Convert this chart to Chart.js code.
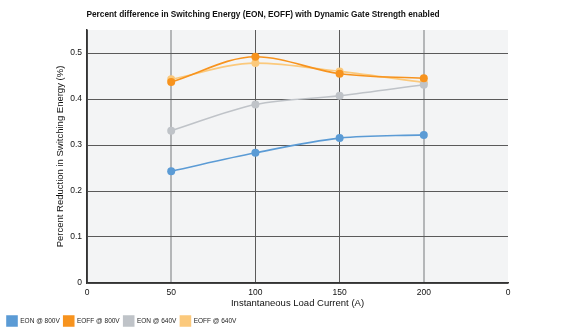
<!DOCTYPE html>
<html>
<head>
<meta charset="utf-8">
<script src="https://cdn.jsdelivr.net/npm/chart.js@4.4.0/dist/chart.umd.min.js"></script>
<style>
	html, body { margin: 0; padding: 0; background: #fff; }
	#wrap { width: 588px; height: 332px; position: relative; }
</style>
</head>
<body>
<div id="wrap"><canvas id="switchChart" width="588" height="332"></canvas></div>
<script>
// tick labels on the x axis (the chart really shows a trailing "0")
const xLabels = ['0', '50', '100', '150', '200', '0'];

// values, null where no point is drawn
const eon800 = [null, 0.243, 0.283, 0.315, 0.322, null];
const eoff800 = [null, 0.437, 0.492, 0.455, 0.445, null];
const eon640 = [null, 0.331, 0.388, 0.407, 0.431, null];
const eoff640 = [null, 0.443, 0.478, 0.460, 0.436, null];

const chartTitle = 'Percent difference in Switching Energy (EON, EOFF) with Dynamic Gate Strength enabled';

const plotBackground = {
	id: 'plotBackground',
	beforeDraw(chart) {
		const a = chart.chartArea;
		const ctx = chart.ctx;
		ctx.save();
		ctx.fillStyle = '#f3f4f5';
		ctx.fillRect(a.left, a.top, a.right - a.left, a.bottom - a.top);
		ctx.restore();
	},
	afterDraw(chart) {
		// title sits left of centre in the original, so draw it ourselves
		const ctx = chart.ctx;
		ctx.save();
		ctx.font = 'bold 8.3px "Liberation Sans", Arial, sans-serif';
		ctx.fillStyle = '#111';
		ctx.textAlign = 'center';
		ctx.textBaseline = 'middle';
		ctx.fillText(chartTitle, 263, 15);
		ctx.restore();
	}
};

function series(label, data, color) {
	return {
		label: label,
		data: data,
		borderColor: color,
		backgroundColor: color,
		borderWidth: 1.6,
		pointRadius: 4,
		pointHoverRadius: 4,
		pointBorderWidth: 0,
		cubicInterpolationMode: 'monotone',
	};
}

Chart.defaults.font.family = '"Liberation Sans", Arial, sans-serif';
Chart.defaults.color = '#111';

const ctx = document.getElementById('switchChart').getContext('2d');
const switchChart = new Chart(ctx, {
	type: 'line',
	data: {
		labels: xLabels,
		datasets: [
			series('EON @ 800V', eon800, '#5b9bd5'),
			series('EOFF @ 800V', eoff800, '#f7931e'),
			series('EON @ 640V', eon640, '#bfc3c8'),
			series('EOFF @ 640V', eoff640, '#fbc97c'),
		],
	},
	options: {
		responsive: false,
		animation: false,
		maintainAspectRatio: false,
		layout: {
			padding: { top: 30, right: 80, bottom: -4, left: 3 },
		},
		plugins: {
			legend: {
				position: 'bottom',
				align: 'start',
				labels: {
					boxWidth: 10,
					boxHeight: 10,
					padding: 4,
					font: { size: 6.5 },
					color: '#222',
				},
			},
			title: { display: false },
			tooltip: { enabled: false },
		},
		scales: {
			x: {
				offset: false,
				grid: {
					color: (c) => {
						const i = c.index;
						if (i === 1 || i === 4) return '#b4b6b8';
						if (i === 5) return 'rgba(0,0,0,0)';
						return '#5a5a5a';
					},
					lineWidth: (c) => (c.index === 1 || c.index === 4) ? 2 : 1,
					drawTicks: false,
				},
				border: { color: '#333', width: 1.5 },
				ticks: { font: { size: 8.5 }, padding: 5, maxRotation: 0 },
				title: {
					display: true,
					text: 'Instantaneous Load Current (A)',
					font: { size: 9.5 },
					padding: { top: 3, bottom: 3 },
				},
				afterFit: (scale) => { scale.height = 29; },
			},
			y: {
				min: 0,
				max: 0.55,
				grid: { color: '#5a5a5a', lineWidth: 1, drawTicks: false },
				border: { color: '#333', width: 1.5 },
				ticks: { stepSize: 0.1, font: { size: 8.5 }, padding: 5 },
				afterBuildTicks: (scale) => {
					scale.ticks = scale.ticks.filter(t => Math.abs(t.value * 10 - Math.round(t.value * 10)) < 1e-6);
				},
				title: {
					display: true,
					text: 'Percent Reduction in Switching Energy (%)',
					font: { size: 9.5 },
					padding: { top: 52, bottom: 0 },
				},
				afterFit: (scale) => { scale.width = 84; },
			},
		},
	},
	plugins: [plotBackground],
});
</script>
</body>
</html>
